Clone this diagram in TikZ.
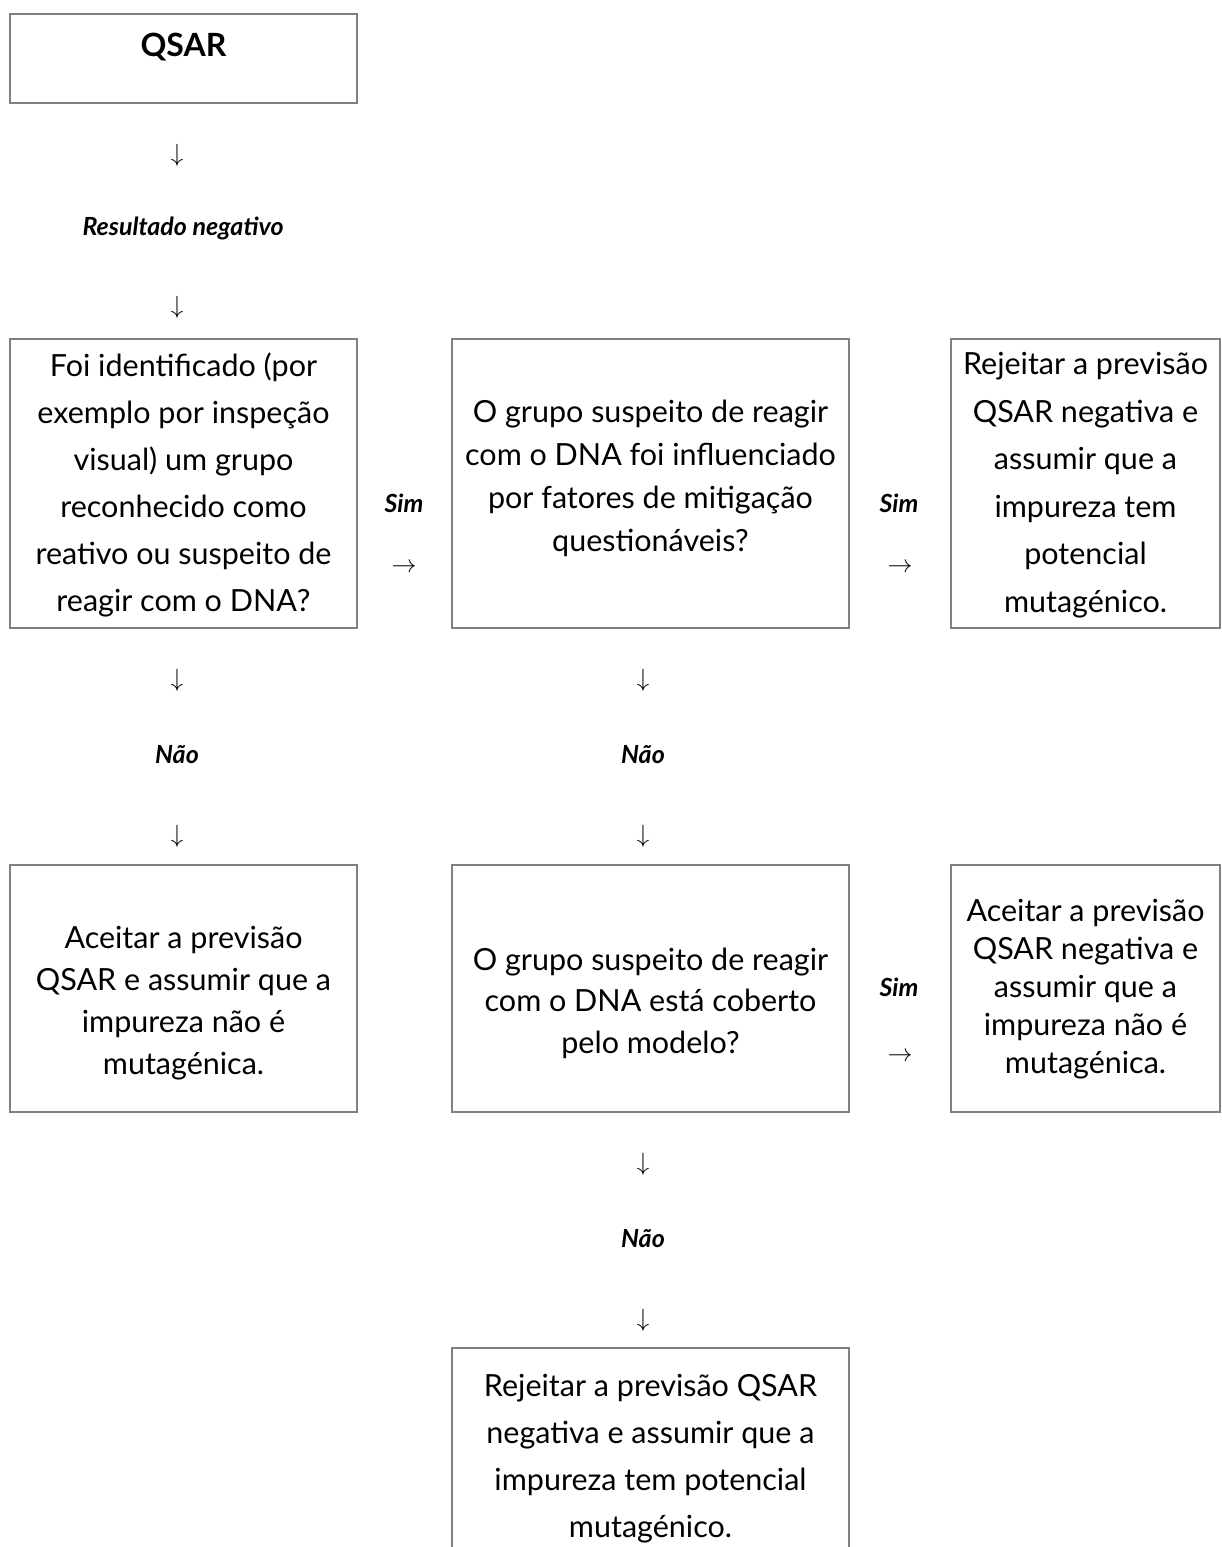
\documentclass[tikz,border=0pt]{standalone}
\usepackage{fontspec}
\setmainfont{Lato}
\usepackage{tikz}
\usetikzlibrary{positioning}
\definecolor{boxline}{HTML}{808080}

\tikzset{
  frame/.style={draw=boxline, line width=2pt, inner sep=0pt},
  txt/.style={align=center, inner sep=0pt, font=\fontsize{30.5}{#1}\selectfont},
  txt/.default=47,
  lbl/.style={inner sep=0pt, font=\fontsize{25}{28}\selectfont\bfseries\itshape},
  arr/.style={inner sep=0pt, font=\fontsize{26}{26}\selectfont},
}

\begin{document}
\begin{tikzpicture}[x=1pt,y=-1pt]
  \useasboundingbox (0,0) rectangle (1222,1547);

  % Start
  \node[frame, minimum width=347, minimum height=89] (qsar) at (183.5,58.5) {};
  \node[inner sep=0pt, font=\fontsize{32}{34}\selectfont\bfseries] (qsartxt) at (183.5,47) {QSAR};
  \node[arr] (dnA) at (177,155) {$\downarrow$};
  \node[lbl] (neg) at (183,228) {Resultado negativo};
  \node[arr] (dnB) at (177,307) {$\downarrow$};

  % First row
  \node[frame, minimum width=347, minimum height=289] (ident) at (183.5,483.5) {};
  \node[txt] (identtxt) at (183.5,485) {Foi identificado (por\\exemplo por inspeção\\visual) um grupo\\reconhecido como\\reativo ou suspeito de\\reagir com o DNA?};

  \node[frame, minimum width=397, minimum height=289] (mitig) at (650.5,483.5) {};
  \node[txt=43] (mitigtxt) at (650.5,478) {O grupo suspeito de reagir\\com o DNA foi influenciado\\por fatores de mitigação\\questionáveis?};

  \node[frame, minimum width=269, minimum height=289] (rejA) at (1085.5,483.5) {};
  \node[txt=47.5] (rejAtxt) at (1085.5,485) {Rejeitar a previsão\\QSAR negativa e\\assumir que a\\impureza tem\\potencial\\mutagénico.};

  \node[lbl] (simA) at (404,503) {Sim};
  \node[arr] (rtA) at (404,568) {$\rightarrow$};
  \node[lbl] (simB) at (899,503) {Sim};
  \node[arr] (rtB) at (900,568) {$\rightarrow$};

  % Down from first row
  \node[arr] (dnC) at (177,680) {$\downarrow$};
  \node[lbl] (naoA) at (177,755) {Não};
  \node[arr] (dnD) at (177,836) {$\downarrow$};
  \node[arr] (dnE) at (643,680) {$\downarrow$};
  \node[lbl] (naoB) at (643,755) {Não};
  \node[arr] (dnF) at (643,836) {$\downarrow$};

  % Second row
  \node[frame, minimum width=347, minimum height=247] (aceA) at (183.5,988.5) {};
  \node[txt=42] (aceAtxt) at (183.5,1003) {Aceitar a previsão\\QSAR e assumir que a\\impureza não é\\mutagénica.};

  \node[frame, minimum width=397, minimum height=247] (cover) at (650.5,988.5) {};
  \node[txt=41.5] (covertxt) at (650.5,1003) {O grupo suspeito de reagir\\com o DNA está coberto\\pelo modelo?};

  \node[frame, minimum width=269, minimum height=247] (aceB) at (1085.5,988.5) {};
  \node[txt=38] (aceBtxt) at (1085.5,989) {Aceitar a previsão\\QSAR negativa e\\assumir que a\\impureza não é\\mutagénica.};

  \node[lbl] (simC) at (899,987) {Sim};
  \node[arr] (rtC) at (900,1057) {$\rightarrow$};

  % Down from second row
  \node[arr] (dnG) at (643,1164) {$\downarrow$};
  \node[lbl] (naoC) at (643,1239) {Não};
  \node[arr] (dnH) at (643,1320) {$\downarrow$};

  % Last box, cut by the page edge
  \node[frame, minimum width=397, minimum height=222] (rejB) at (650.5,1459) {};
  \node[txt] (rejBtxt) at (650.5,1459) {Rejeitar a previsão QSAR\\negativa e assumir que a\\impureza tem potencial\\mutagénico.};
\end{tikzpicture}
\end{document}
